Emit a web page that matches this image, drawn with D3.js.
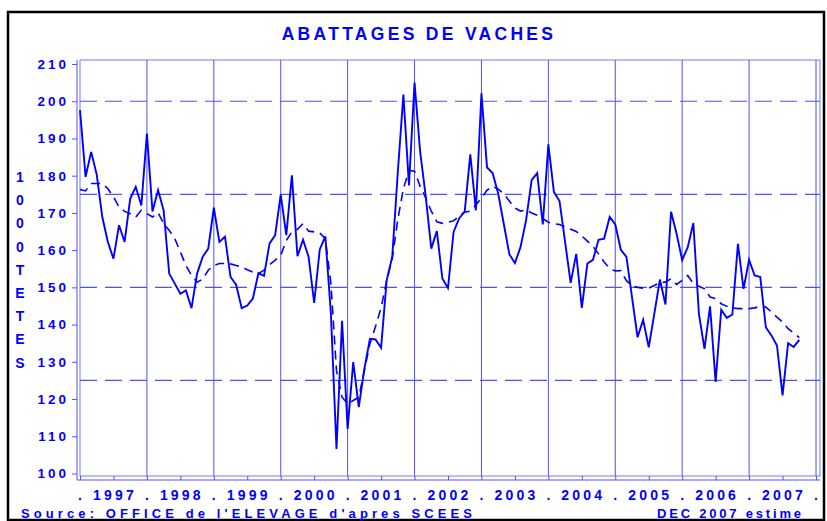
<!DOCTYPE html>
<html>
<head>
<meta charset="utf-8">
<script src="https://cdn.jsdelivr.net/npm/d3@7"></script>
<style>
    body { margin: 0; background: #fff; }
    svg { display: block; }
    text { font-family: "Liberation Sans", Arial, sans-serif; font-weight: bold; fill: #0000ff; }
</style>
</head>
<body>
<div class="abattages"></div>
<script>
const width = 827
const height = 521

// Texts
const title = "ABATTAGES DE VACHES"
const yTitle = ["1", "0", "0", "0", "T", "E", "T", "E", "S"]
const source = "Source: OFFICE de l'ELEVAGE d'apres SCEES"
const note = "DEC 2007 estime"

// Axis values
const years = [1997, 1998, 1999, 2000, 2001, 2002, 2003, 2004, 2005, 2006, 2007]
const yTicks = [100, 110, 120, 130, 140, 150, 160, 170, 180, 190, 200, 210]
const refLines = [125, 150, 175, 200]

// Monthly series, starting January 1997 (1000 tetes)
const firstYear = 1997
const abattages = [
    197.6, 179.7, 186.4, 180.3, 168.9, 162.2, 157.7, 166.7, 162.2, 173.8, 177.0, 172.0,
    191.3, 170.4, 176.1, 170.7, 153.7, 151.0, 148.3, 149.2, 144.4, 153.7, 158.2, 160.4,
    171.4, 162.2, 163.6, 152.8, 150.7, 144.4, 145.1, 147.0, 153.8, 153.1, 161.8, 164.0,
    174.9, 164.0, 180.1, 158.4, 162.8, 158.2, 145.8, 160.2, 163.7, 142.9, 106.6, 141.0,
    112.0, 129.9, 117.8, 128.1, 136.2, 136.0, 133.8, 151.9, 158.2, 181.0, 201.8, 177.4,
    205.0, 186.5, 174.5, 160.4, 165.1, 152.3, 149.8, 164.9, 168.5, 170.4, 185.7, 170.7,
    202.1, 182.2, 180.7, 175.2, 167.1, 158.9, 156.5, 160.8, 168.0, 178.8, 180.7, 166.9,
    188.4, 175.6, 173.2, 162.2, 151.2, 159.0, 144.5, 156.4, 157.4, 162.8, 163.1, 168.9,
    166.9, 160.1, 158.2, 147.4, 136.6, 141.3, 133.9, 142.9, 152.1, 145.4, 170.3, 164.4,
    157.3, 160.8, 167.3, 142.9, 133.5, 144.9, 124.6, 144.0, 141.8, 142.7, 161.7, 149.6,
    157.4, 153.2, 152.8, 139.3, 137.1, 134.4, 121.0, 135.0, 134.0, 135.9
]
const tendance = [
    176.3, 175.9, 177.9, 177.9, 177.9, 176.5, 174.3, 171.6, 170.4, 169.8, 168.9, 170.7,
    169.8, 168.9, 170.1, 167.1, 165.3, 163.1, 159.5, 155.9, 153.2, 151.4, 152.2, 154.6,
    155.9, 156.4, 156.4, 156.3, 155.9, 155.5, 154.7, 154.1, 153.7, 154.6, 156.1, 157.3,
    158.6, 162.6, 164.9, 165.6, 167.1, 165.1, 164.9, 164.6, 163.1, 151.0, 127.7, 120.5,
    118.7, 119.6, 120.5, 127.7, 134.9, 139.5, 144.5, 151.8, 157.7, 168.2, 176.5, 181.4,
    181.2, 177.2, 174.0, 170.5, 167.6, 167.2, 167.5, 167.9, 169.1, 170.2, 170.5, 172.1,
    174.0, 176.1, 177.1, 176.4, 175.1, 173.2, 171.3, 170.5, 170.8, 170.0, 169.4, 168.5,
    167.5, 167.1, 166.9, 166.2, 165.6, 165.0, 163.8, 162.4, 161.0, 159.0, 156.8, 155.1,
    154.4, 154.5, 151.8, 150.4, 150.0, 149.8, 149.8, 150.5, 151.3, 151.4, 152.3, 150.8,
    151.9, 153.2, 151.0, 150.3, 149.6, 147.4, 147.0, 145.6, 144.9, 144.5, 144.3, 144.3,
    144.3, 144.5, 144.9, 144.7, 143.4, 142.0, 140.7, 138.9, 137.7, 136.5
]

const gridColor = "#5050ff"
const lineColor = "#0000ff"

// Scales
const x = d3.scaleLinear()
    .domain([years[0], years[years.length - 1] + 1])
    .range([80, 816])
const y = d3.scaleLinear()
    .domain([100, 210])
    .range([473.5, 64])

const svg = d3.select(".abattages")
    .append("svg")
    .attr("width", width)
    .attr("height", height)

// Outer black frame
svg.append("rect")
    .attr("x", 8).attr("y", 12)
    .attr("width", 816).attr("height", 508)
    .attr("fill", "none")
    .attr("stroke", "black")
    .attr("stroke-width", 2.5)

// Title
svg.append("text")
    .attr("x", 419).attr("y", 40)
    .attr("text-anchor", "middle")
    .attr("font-size", 17.5)
    .attr("letter-spacing", 3.3)
    .text(title)

// Plot frame
svg.append("rect")
    .attr("x", 80).attr("y", 60)
    .attr("width", 740).attr("height", 416)
    .attr("fill", "none")
    .attr("stroke", "#7777ff")

// Year lines
svg.append("g")
    .selectAll("line")
    .data(years.slice(1).concat([years[years.length - 1] + 1]))
    .join("line")
    .attr("x1", d => x(d)).attr("x2", d => x(d))
    .attr("y1", 60).attr("y2", 476)
    .attr("stroke", gridColor)

// Reference dashed lines
svg.append("g")
    .selectAll("line")
    .data(refLines)
    .join("line")
    .attr("x1", 80).attr("x2", 820)
    .attr("y1", d => y(d)).attr("y2", d => y(d))
    .attr("stroke", gridColor)
    .attr("stroke-width", 1.2)
    .attr("stroke-dasharray", "17,8")

// Y axis
const yAxis = svg.append("g")
    .attr("transform", `translate(${77}, ${0})`)
    .call(d3.axisLeft(y).tickValues(yTicks).tickSize(5).tickPadding(3).tickSizeOuter(0))
yAxis.select(".domain").remove()
yAxis.selectAll("line").attr("stroke", gridColor)
yAxis.selectAll("text")
    .attr("font-size", 13.5)
    .attr("letter-spacing", 3)
    .attr("fill", lineColor)
    .attr("font-family", null)
yAxis.append("line")
    .attr("x1", 0).attr("x2", 0)
    .attr("y1", 60).attr("y2", 480)
    .attr("stroke", gridColor)

// X axis (half-year ticks)
const xAxis = svg.append("g")
    .attr("transform", `translate(${0}, ${480})`)
    .call(d3.axisBottom(x)
        .tickValues(d3.range(years[0], years[years.length - 1] + 1.01, 0.5))
        .tickSize(-4)
        .tickFormat(""))
xAxis.select(".domain").remove()
xAxis.selectAll("line").attr("stroke", gridColor)
xAxis.append("line")
    .attr("x1", 77).attr("x2", 820)
    .attr("stroke", gridColor)

// Year labels and dots
svg.append("g")
    .selectAll("text")
    .data(years)
    .join("text")
    .attr("x", d => x(d + 0.5) + 1.5)
    .attr("y", 500)
    .attr("text-anchor", "middle")
    .attr("font-size", 14)
    .attr("letter-spacing", 3.2)
    .text(d => d)
svg.append("g")
    .selectAll("text")
    .data(years.concat([years[years.length - 1] + 1]))
    .join("text")
    .attr("x", d => x(d))
    .attr("y", 500)
    .attr("text-anchor", "middle")
    .attr("font-size", 14)
    .text(".")

// Y title, one letter per row
svg.append("g")
    .selectAll("text")
    .data(yTitle)
    .join("text")
    .attr("x", 20)
    .attr("y", (d, i) => 182 + i * 23.2)
    .attr("text-anchor", "middle")
    .attr("font-size", 14)
    .text(d => d)

// Source and note
svg.append("text")
    .attr("x", 21).attr("y", 518)
    .attr("font-size", 13)
    .attr("letter-spacing", 4.1)
    .text(source)
svg.append("text")
    .attr("x", 657).attr("y", 518)
    .attr("font-size", 13)
    .attr("letter-spacing", 2.8)
    .text(note)

// Lines
const line = d3.line()
    .x((d, i) => x(firstYear + i / 12))
    .y(d => y(d))

svg.append("path")
    .attr("fill", "none")
    .attr("stroke", lineColor)
    .attr("stroke-width", 1.6)
    .attr("stroke-dasharray", "9,6")
    .attr("d", line(tendance))

svg.append("path")
    .attr("fill", "none")
    .attr("stroke", lineColor)
    .attr("stroke-width", 1.9)
    .attr("d", line(abattages))
</script>
</body>
</html>
